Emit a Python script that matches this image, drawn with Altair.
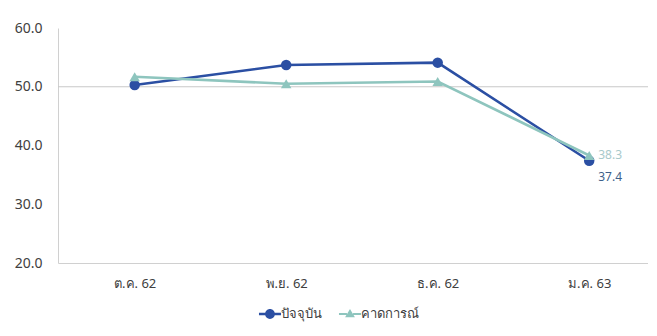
import altair as alt
import pandas as pd

months = ["ต.ค. 62", "พ.ย. 62", "ธ.ค. 62", "ม.ค. 63"]
series_names = ["ปัจจุบัน", "คาดการณ์"]
current = [50.3, 53.7, 54.1, 37.4]
expected = [51.7, 50.5, 50.9, 38.3]
ref_value = [50.0]

blue = "#2B4FA3"
teal = "#8EC5BE"
FONT = "Noto Sans"

rows = []
for m, v in zip(months, current):
    rows.append({"month": m, "series": series_names[0], "value": v})
for m, v in zip(months, expected):
    rows.append({"month": m, "series": series_names[1], "value": v})
df = pd.DataFrame(rows)

xenc = alt.X("month:N", sort=months, title=None,
             scale=alt.Scale(type="point", padding=0.447, align=0.566),
             axis=alt.Axis(labelColor="#404040", labelFontSize=13, labelFont=FONT,
                           domainColor="#D0D0D0", ticks=False, labelPadding=14,
                           labelAngle=0, grid=False))
yaxis = alt.Axis(values=[20, 30, 40, 50, 60], format=".1f", labelColor="#404040",
                 labelFontSize=14, labelFont=FONT, domainColor="#D0D0D0",
                 ticks=False, grid=False, labelPadding=16)
yscale = alt.Scale(domain=[20, 60], nice=False, zero=False)
yenc = alt.Y("value:Q", title=None, scale=yscale, axis=yaxis)

color_scale = alt.Scale(domain=series_names, range=[blue, teal])

base = alt.Chart(df)

ref = alt.Chart(pd.DataFrame({"value": ref_value})).mark_rule(color="#C8C8C8", strokeWidth=1.2).encode(
    y=yenc
)

lines = base.mark_line(strokeWidth=2.6).encode(
    x=xenc, y=yenc,
    color=alt.Color("series:N", scale=color_scale, legend=None),
    detail="series:N",
)

points = base.mark_point(filled=True, opacity=1, size=110).encode(
    x=xenc, y=yenc,
    color=alt.Color("series:N", scale=color_scale, legend=None),
    shape=alt.Shape("series:N", scale=alt.Scale(domain=series_names, range=["circle", "triangle-up"]), legend=None),
)

circ_path = ("M-1.8,-0.2 L-0.7,-0.2 L-0.7,0.2 L-1.8,0.2 Z "
             "M0.7,-0.2 L1.8,-0.2 L1.8,0.2 L0.7,0.2 Z "
             "M-0.8,0 A0.8,0.8 0 1,1 0.8,0 A0.8,0.8 0 1,1 -0.8,0 Z")
tri_path = ("M-1.8,-0.15 L-0.5,-0.15 L-0.5,0.15 L-1.8,0.15 Z "
            "M0.5,-0.15 L1.8,-0.15 L1.8,0.15 L0.5,0.15 Z "
            "M0,-0.8 L0.8,0.55 L-0.8,0.55 Z")

legend_layer = base.transform_filter("datum.value > 1000").mark_point(filled=True, opacity=1).encode(
    x=xenc, y=yenc,
    color=alt.Color("series:N", scale=color_scale,
                    legend=alt.Legend(title=None, orient="none", direction="horizontal",
                                      legendX=205, legendY=279, labelFont=FONT, labelFontSize=13,
                                      labelColor="#404040", symbolSize=150, columnPadding=16,
                                      labelOffset=4)),
    shape=alt.Shape("series:N", scale=alt.Scale(domain=series_names, range=[circ_path, tri_path])),
)

last_cur = df[(df["month"] == months[-1]) & (df["series"] == series_names[0])]
last_exp = df[(df["month"] == months[-1]) & (df["series"] == series_names[1])]

label_cur = alt.Chart(last_cur).mark_text(align="left", baseline="middle", dx=9, dy=16,
                                          fontSize=12, font=FONT, color="#3E5F8A").encode(
    x=xenc, y=yenc, text=alt.Text("value:Q", format=".1f"))
label_exp = alt.Chart(last_exp).mark_text(align="left", baseline="middle", dx=9, dy=0,
                                          fontSize=12, font=FONT, color="#A8C9CB").encode(
    x=xenc, y=yenc, text=alt.Text("value:Q", format=".1f"))

chart = alt.layer(ref, lines, points, label_cur, label_exp, legend_layer).resolve_scale(
    shape="independent", color="independent"
).properties(
    width=590, height=235,
    autosize=alt.AutoSizeParams(type="none"),
    padding={"left": 50, "top": 20, "right": 0, "bottom": 70},
    background="white",
).configure_view(stroke=None)

chart.save("out.html", embed_options={"renderer": "svg", "actions": False})
